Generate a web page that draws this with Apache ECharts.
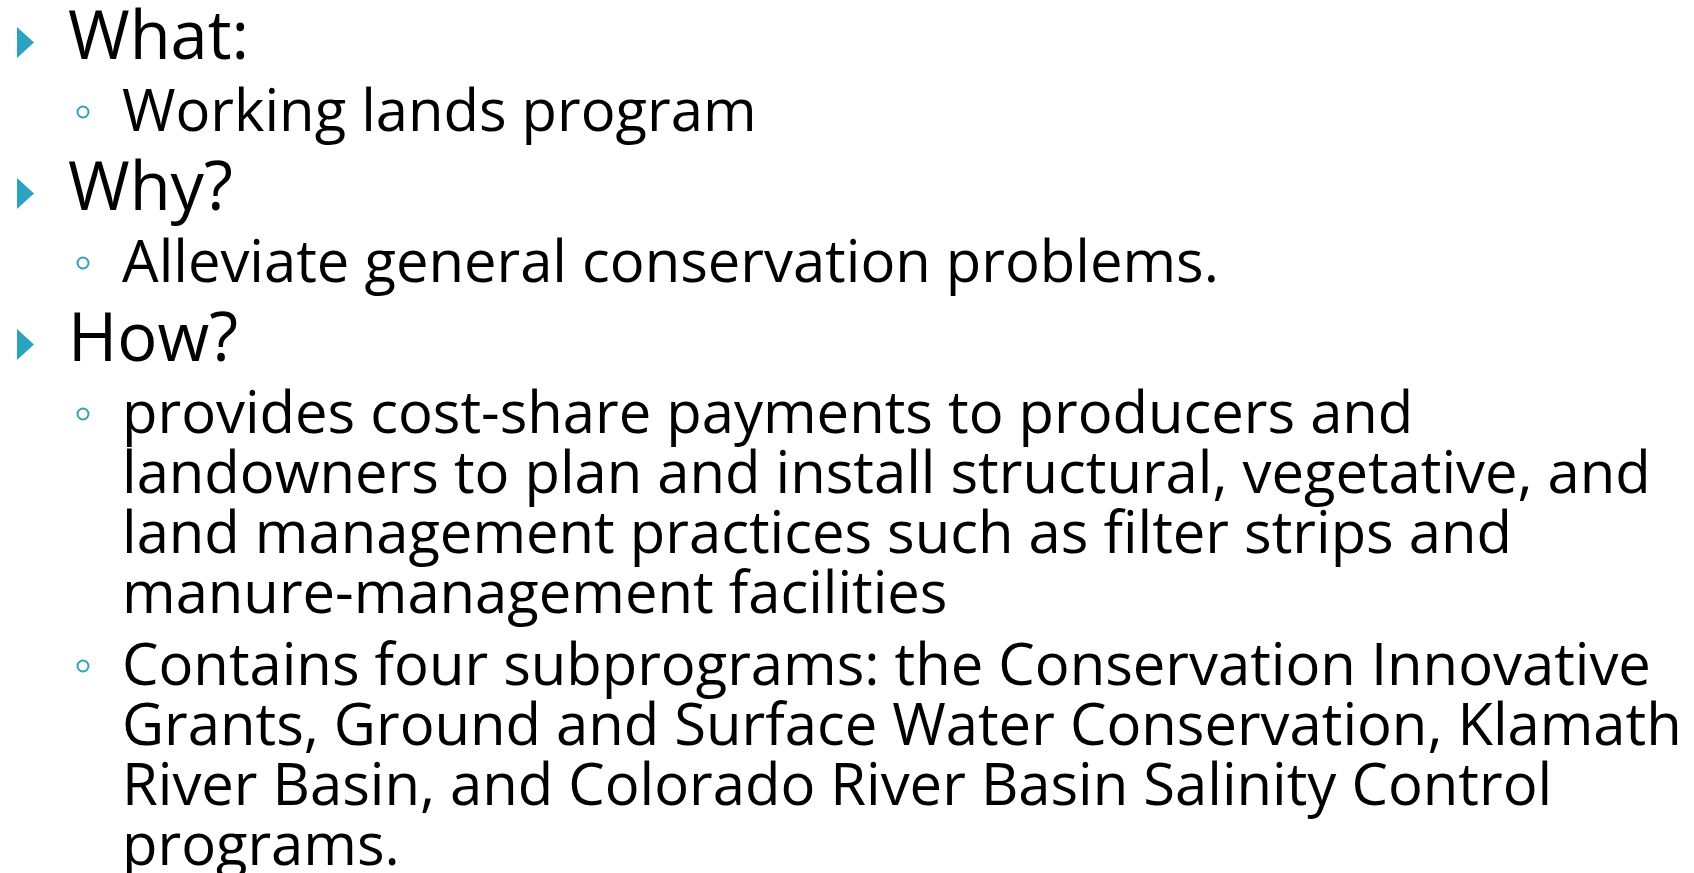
<!DOCTYPE html>
<html>
<head>
<meta charset="utf-8">
<script src="https://cdn.jsdelivr.net/npm/echarts@6/dist/echarts.min.js"></script>
<style>
  html, body { margin: 0; padding: 0; background: #ffffff; }
  #main { width: 1694px; height: 873px; }
</style>
</head>
<body>
<div id="main"></div>
<script>
// slide text, one array per block
var headings = ['What:', 'Why?', 'How?'];
var whatItems = [['Working lands program']];
var whyItems = [['Alleviate general conservation problems.']];
var howItems = [
  ['provides cost-share payments to producers and',
   'landowners to plan and install structural, vegetative, and',
   'land management practices such as filter strips and',
   'manure-management facilities'],
  ['Contains four subprograms: the Conservation Innovative',
   'Grants, Ground and Surface Water Conservation, Klamath',
   'River Basin, and Colorado River Basin Salinity Control',
   'programs.']
];
var itemsByHeading = [whatItems, whyItems, howItems];

var chart = echarts.init(document.getElementById('main'));

var FONT = '"Open Sans"';
var accent = '#2ca3c0';
var h1Size = 68, h2Size = 59;
var squeeze = 0.982; // reference face is a touch narrower
var elements = [];

// baseline -> 'middle' y for canvas text
function midY(base, size) { return base - 0.285 * size; }

var y = 59;
headings.forEach(function (h, i) {
  if (i > 0) y += 79;
  // triangle bullet
  elements.push({
    type: 'polygon',
    shape: { points: [[17, y - 32], [34, y - 16.5], [17, y - 1]] },
    style: { fill: accent }
  });
  elements.push({
    type: 'text', x: 68, y: midY(y, h1Size), scaleX: squeeze,
    style: { text: h, font: h1Size + 'px ' + FONT, fill: '#000', verticalAlign: 'middle' }
  });
  itemsByHeading[i].forEach(function (para) {
    y += 72;
    elements.push({
      type: 'circle',
      shape: { cx: 83, cy: y - 19, r: 5.5 },
      style: { fill: 'none', stroke: accent, lineWidth: 2 }
    });
    para.forEach(function (line, k) {
      if (k > 0) y += 60;
      elements.push({
        type: 'text', x: 122, y: midY(y, h2Size), scaleX: squeeze,
        style: { text: line, font: h2Size + 'px ' + FONT, fill: '#000', verticalAlign: 'middle' }
      });
    });
  });
});

chart.setOption({
  backgroundColor: '#ffffff',
  animation: false,
  graphic: { elements: elements }
});
</script>
</body>
</html>
